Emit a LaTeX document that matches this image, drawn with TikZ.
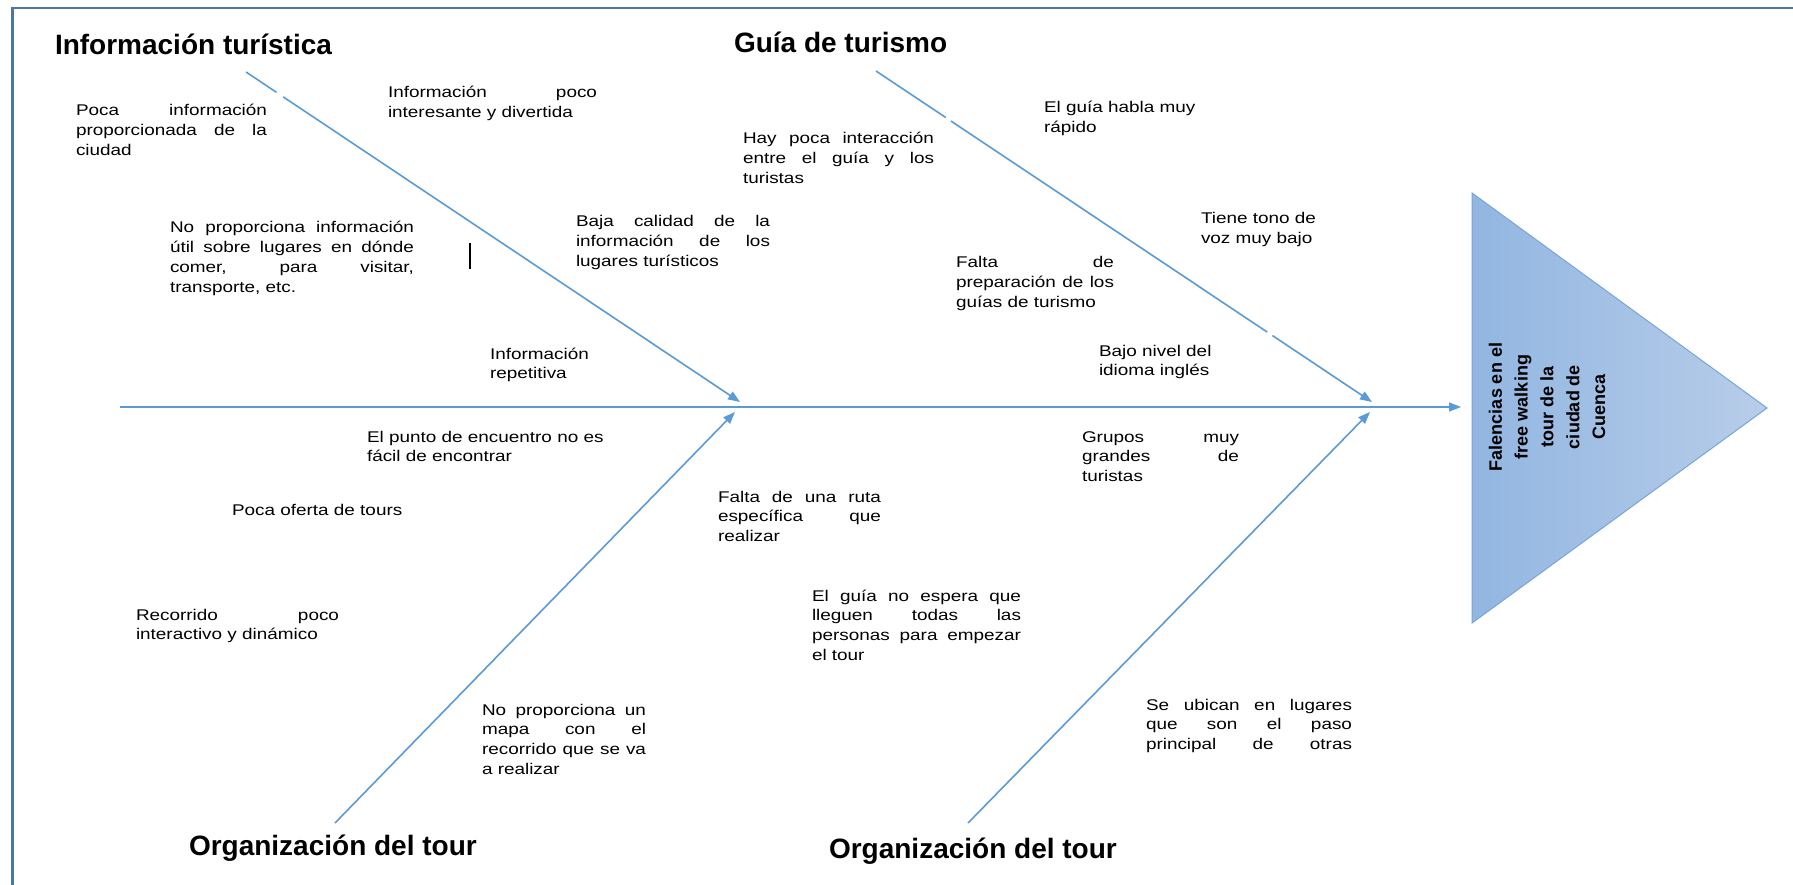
\documentclass[tikz,border=0pt]{standalone}
\usepackage{fontspec}
\setmainfont{Liberation Sans}
\newfontfamily\bodyf[FakeStretch=1.22]{Liberation Sans}
\usetikzlibrary{arrows.meta,calc}
\definecolor{bonec}{RGB}{91,155,213}
\definecolor{framec}{RGB}{74,118,168}
\definecolor{headl}{RGB}{146,182,225}
\definecolor{headr}{RGB}{184,205,233}
\definecolor{heade}{RGB}{120,164,216}
\newcommand\J[2]{\hbox to #1{\spaceskip=0.25em plus 1fil minus 0.1em\relax #2}}
\tikzset{
  txt/.style={anchor=base west, inner sep=0pt, outer sep=0pt, font=\bodyf\fontsize{15.5}{19.7}\selectfont, text=black},
  ttl/.style={anchor=base west, inner sep=0pt, outer sep=0pt, font=\bfseries\fontsize{28}{32}\selectfont, text=black},
  bone/.style={draw=bonec, line width=1.6pt, -{Triangle[length=12pt,width=9pt]}},
  gapw/.style={draw=white, line width=3pt},
  framel/.style={draw=framec, line width=2.6pt},
}
\begin{document}
\begin{tikzpicture}[x=1pt,y=-1pt]
\useasboundingbox (0,0) rectangle (1793,885);
\fill[white] (0,0) rectangle (1793,885);
% frame
\coordinate (fbl) at (12.5,885);
\coordinate (ftl) at (12.5,8);
\coordinate (ftr) at (1793,8);
\draw[framel] (fbl) -- (ftl) -- (ftr);

% head triangle
\coordinate (ha) at (1472,193);
\coordinate (hb) at (1767,408);
\coordinate (hc) at (1472,623);
\shade[left color=headl, right color=headr] (ha) -- (hb) -- (hc) -- cycle;
\draw[heade, line width=1pt] (ha) -- (hb) -- (hc) -- cycle;
\node[rotate=90, align=center, inner sep=0pt, font=\bfseries\fontsize{18}{25.8}\selectfont] (head) at (1547,407)
  {Falencias en el\\free walking\\tour de la\\ciudad de\\Cuenca};

% spine and bones
\coordinate (spl) at (120,407);
\coordinate (headw) at (1461,407);
\coordinate (b1s) at (246,72);
\coordinate (j1u) at (740,402);
\coordinate (b2s) at (876,71);
\coordinate (j2u) at (1372,402);
\coordinate (b3s) at (335,823);
\coordinate (j1d) at (735,412);
\coordinate (b4s) at (968,823);
\coordinate (j2d) at (1370,412);
\draw[bone] (spl) -- (headw);
\draw[bone] (b1s) -- (j1u);
\draw[bone] (b2s) -- (j2u);
\draw[bone] (b3s) -- (j1d);
\draw[bone] (b4s) -- (j2d);
% small breaks in the upper bones
\draw[gapw] ($(b1s)!0.062!(j1u)$) -- ($(b1s)!0.075!(j1u)$);
\draw[gapw] ($(b2s)!0.141!(j2u)$) -- ($(b2s)!0.151!(j2u)$);
\draw[gapw] ($(b2s)!0.789!(j2u)$) -- ($(b2s)!0.799!(j2u)$);

% small vertical mark
\coordinate (m1) at (470,243);
\coordinate (m2) at (470,269);
\draw[black, line width=1.5pt] (m1) -- (m2);

% titles
\node[ttl] (c1) at (55,55) {Información turística};
\node[ttl] (c2) at (734,53) {Guía de turismo};
\node[ttl] (c3) at (189,855) {Organización del tour};
\node[ttl] (c4) at (829,858) {Organización del tour};

% causes
\node[txt] (t1) at (76,116) {\vtop{\J{191pt}{Poca información}\J{191pt}{proporcionada de la}\hbox{ciudad}}};
\node[txt] (t2) at (388,98) {\vtop{\J{209pt}{Información poco}\hbox{interesante y divertida}}};
\node[txt] (t3) at (170,233) {\vtop{\J{244pt}{No proporciona información}\J{244pt}{útil sobre lugares en dónde}\J{244pt}{comer, para visitar,}\hbox{transporte, etc.}}};
\node[txt] (t4) at (576,227) {\vtop{\J{194pt}{Baja calidad de la}\J{194pt}{información de los}\hbox{lugares turísticos}}};
\node[txt] (t5) at (490,359) {\vtop{\hbox{Información}\hbox{repetitiva}}};
\node[txt] (t6) at (743,144) {\vtop{\J{191pt}{Hay poca interacción}\J{191pt}{entre el guía y los}\hbox{turistas}}};
\node[txt] (t7) at (1044,113) {\vtop{\hbox{El guía habla muy}\hbox{rápido}}};
\node[txt] (t8) at (1201,224) {\vtop{\hbox{Tiene tono de}\hbox{voz muy bajo}}};
\node[txt] (t9) at (956,268) {\vtop{\J{158pt}{Falta de}\J{158pt}{preparación de los}\hbox{guías de turismo}}};
\node[txt] (t10) at (1099,356) {\vtop{\hbox{Bajo nivel del}\hbox{idioma inglés}}};
\node[txt] (t11) at (367,442) {\vtop{\hbox{El punto de encuentro no es}\hbox{fácil de encontrar}}};
\node[txt] (t12) at (232,515) {Poca oferta de tours};
\node[txt] (t13) at (136,620) {\vtop{\J{203pt}{Recorrido poco}\hbox{interactivo y dinámico}}};
\node[txt] (t14) at (718,502) {\vtop{\J{163pt}{Falta de una ruta}\J{163pt}{específica que}\hbox{realizar}}};
\node[txt] (t15) at (812,601) {\vtop{\J{209pt}{El guía no espera que}\J{209pt}{lleguen todas las}\J{209pt}{personas para empezar}\hbox{el tour}}};
\node[txt] (t16) at (482,715) {\vtop{\J{164pt}{No proporciona un}\J{164pt}{mapa con el}\J{164pt}{recorrido que se va}\hbox{a realizar}}};
\node[txt] (t17) at (1082,442) {\vtop{\J{157pt}{Grupos muy}\J{157pt}{grandes de}\hbox{turistas}}};
\node[txt] (t18) at (1146,710) {\vtop{\J{206pt}{Se ubican en lugares}\J{206pt}{que son el paso}\J{206pt}{principal de otras}}};
\end{tikzpicture}
\end{document}
